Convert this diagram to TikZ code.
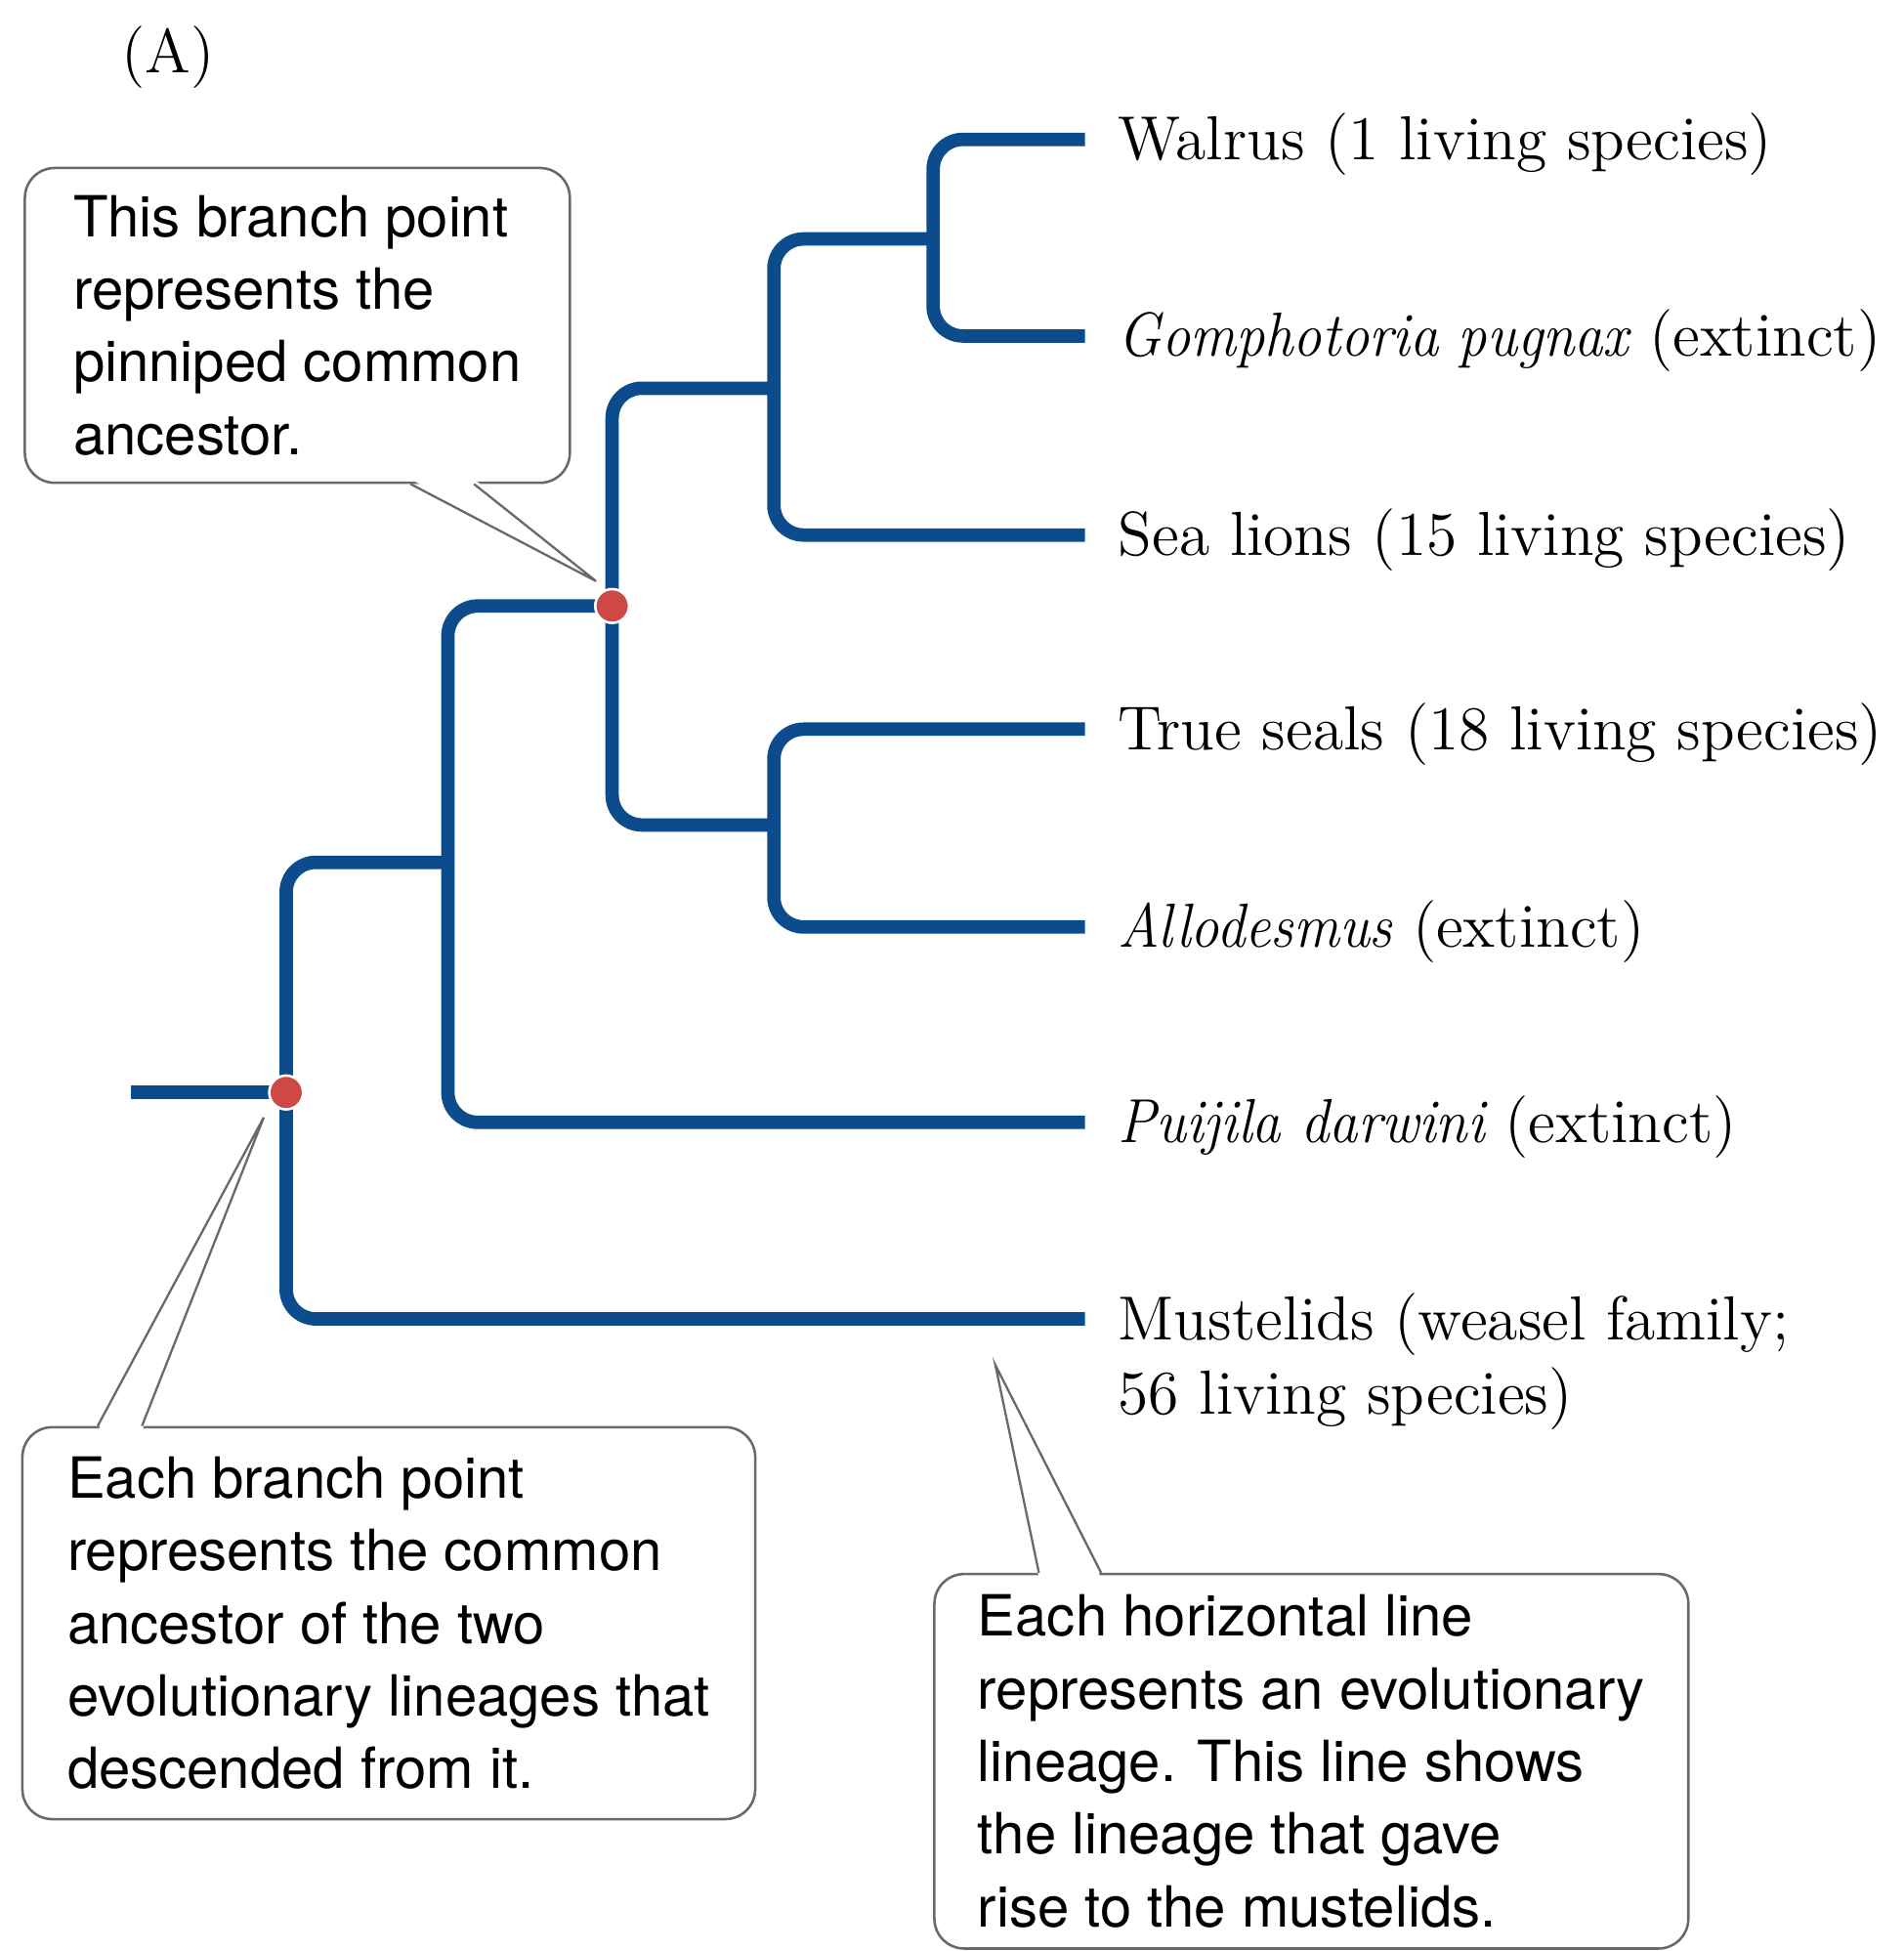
\documentclass[tikz,border=0pt]{standalone}
\usepackage{fontspec}
\usepackage{graphicx}
\setsansfont{TeX Gyre Heros}
\usetikzlibrary{positioning}
\definecolor{lineage}{RGB}{12,76,140}
\definecolor{ancestor}{RGB}{206,72,70}
\definecolor{balloon}{RGB}{105,105,105}
% genus and species names, set a little narrower
\newcommand{\genus}[1]{\scalebox{0.92}[1]{\itshape #1}}

\begin{document}
\begin{tikzpicture}[x=0.25pt,y=-0.25pt,node distance=6.5pt,
    branch/.style={draw=lineage,line width=2.7pt,rounded corners=6pt},
    taxon/.style={inner sep=0pt,align=left,yshift=-1pt,font=\fontsize{12.5}{15}\selectfont},
    callout/.style={draw=balloon,line width=0.5pt,rounded corners=6pt,fill=white,
      align=left,inner sep=0pt,font=\fontsize{11.4}{14.6}\sffamily},
    pointer/.style={draw=balloon,line width=0.45pt},
    branchpt/.style={circle,fill=ancestor,draw=white,line width=0.5pt,inner sep=0pt,minimum size=6.8pt}]
  \useasboundingbox (0,0) rectangle (1530,1568);

  \node[taxon] (panel) at (135,42) {(A)};

  % branch points and tips of the tree
  \coordinate (stub) at (105,878);
  \coordinate (root) at (230,878);
  \coordinate (carniv) at (360,693);
  \coordinate (pinn) at (492,487);
  \coordinate (otar) at (622,312);
  \coordinate (odob) at (750,192);
  \coordinate (phoc) at (622,663);
  \coordinate (wal) at (872,112);
  \coordinate (gom) at (872,270);
  \coordinate (sea) at (872,430);
  \coordinate (true) at (872,586);
  \coordinate (allo) at (872,745);
  \coordinate (pui) at (872,902);
  \coordinate (must) at (872,1060);

  \draw[branch] (stub) -- (root);
  \draw[branch] (carniv) -| (root) |- (must);
  \draw[branch] (pinn) -| (carniv) |- (pui);
  \draw[branch] (otar) -| (pinn) |- (phoc);
  \draw[branch] (odob) -| (otar) |- (sea);
  \draw[branch] (wal) -| (odob) |- (gom);
  \draw[branch] (true) -| (phoc) |- (allo);

  \node[branchpt] (rootdot) at (root) {};
  \node[branchpt] (pinndot) at (pinn) {};

  % taxa
  \node[taxon,right=of wal] (walrus) {Walrus (1 living species)};
  \node[taxon,right=of gom] (gomph) {\genus{Gomphotoria pugnax} (extinct)};
  \node[taxon,right=of sea] (sealions) {Sea lions (15 living species)};
  \node[taxon,right=of true] (trueseals) {True seals (18 living species)};
  \node[taxon,right=of allo] (allodesmus) {\genus{Allodesmus} (extinct)};
  \node[taxon,right=of pui] (puijila) {\genus{Puijila darwini} (extinct)};
  \node[taxon,right=of must,yshift=-7.5pt] (mustelids) {Mustelids (weasel family;\\56 living species)};

  % callouts
  \node[callout,minimum width=109.5pt,minimum height=63.25pt] (pinnote) at (239,261.5)
    {This branch point\\represents the\\pinniped common\\ancestor.};
  \node[callout,minimum width=147.25pt,minimum height=78.75pt] (rootnote) at (312.5,1304.5)
    {Each branch point\\represents the common\\ancestor of the two\\evolutionary lineages that\\descended from it.};
  \node[callout,minimum width=151.5pt,minimum height=75.25pt] (linenote) at (1054,1415.5)
    {Each horizontal line\\represents an evolutionary\\lineage. This line shows\\the lineage that gave\\rise to the mustelids.};

  \coordinate (pintip) at (479,467);
  \coordinate (roottip) at (212,898);
  \coordinate (linetip) at (800,1097);

  \fill[white] ([xshift=22.75pt,yshift=1pt]pinnote.south) -- (pintip) -- ([xshift=35.5pt,yshift=1pt]pinnote.south) -- cycle;
  \draw[pointer] ([xshift=22.75pt]pinnote.south) -- (pintip) -- ([xshift=35.5pt]pinnote.south);
  \fill[white] ([xshift=-58.5pt,yshift=-1pt]rootnote.north) -- (roottip) -- ([xshift=-49.6pt,yshift=-1pt]rootnote.north) -- cycle;
  \draw[pointer] ([xshift=-58.5pt]rootnote.north) -- (roottip) -- ([xshift=-49.6pt]rootnote.north);
  \fill[white] ([xshift=-54.75pt,yshift=-1pt]linenote.north) -- (linetip) -- ([xshift=-42.25pt,yshift=-1pt]linenote.north) -- cycle;
  \draw[pointer] ([xshift=-54.75pt]linenote.north) -- (linetip) -- ([xshift=-42.25pt]linenote.north);
\end{tikzpicture}
\end{document}
